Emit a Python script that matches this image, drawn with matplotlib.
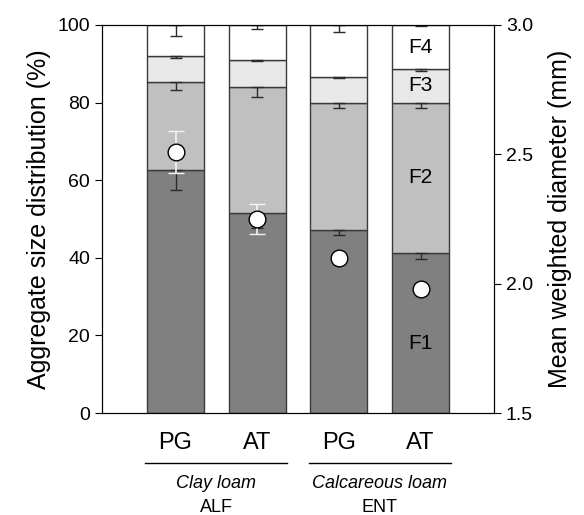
import matplotlib.pyplot as plt
import numpy as np
import matplotlib.transforms as mtransforms

plt.rcParams['font.family'] = ['Liberation Sans', 'DejaVu Sans']

# bars: PG / AT for two soils
treatments = ['PG', 'AT', 'PG', 'AT']
soils = ['Clay loam', 'Calcareous loam']
orders = ['ALF', 'ENT']

# aggregate fractions (%) per bar
f1 = [62.6, 51.6, 47.2, 41.3]
f2 = [22.6, 32.3, 32.6, 38.6]
f3 = [6.7, 7.1, 6.9, 8.7]
f4 = [8.1, 9.0, 13.3, 11.4]
# errors (drawn downward from the top of each segment)
f1_err = [5.0, 3.9, 1.3, 1.5]
f2_err = [2.0, 2.5, 1.3, 1.4]
f3_err = [0.4, 0.3, 0.3, 0.4]
f4_err = [2.8, 1.1, 1.9, 0.3]

# mean weighted diameter (mm)
mwd = [2.51, 2.25, 2.10, 1.98]
mwd_err = [0.082, 0.057, 0.0, 0.0]

seg_labels = ['F1', 'F2', 'F3', 'F4']
seg_colors = ['#808080', '#c0c0c0', '#e8e8e8', '#ffffff']

fig = plt.figure(figsize=(5.84, 5.15), dpi=100)
ax = fig.add_axes([0.1747, 0.198, 0.6712, 0.7535])

x = np.arange(len(treatments))
bottom = np.zeros(len(x))
for vals, errs, col in zip([f1, f2, f3, f4], [f1_err, f2_err, f3_err, f4_err], seg_colors):
    vals = np.array(vals)
    ax.bar(x, vals, 0.7, bottom=bottom, color=col, edgecolor='#3a3a3a', linewidth=1.0, zorder=2)
    top = bottom + vals
    ax.errorbar(x, top, yerr=[errs, np.zeros(len(x))], fmt='none', ecolor='#2a2a2a',
                elinewidth=1.0, capsize=4.5, capthick=1.0, zorder=3)
    bottom = top

# segment labels in the last bar
lab_y = [18.0, 60.6, 84.5, 94.3]
for lab, yy in zip(seg_labels, lab_y):
    ax.text(x[-1], yy, lab, ha='center', va='center', fontsize=15, zorder=4)

ax.set_xlim(-0.9, 3.9)
ax.set_ylim(0, 100)
ax.set_yticks([0, 20, 40, 60, 80, 100])
ax.set_xticks(x)
ax.set_xticklabels(treatments, fontsize=17)
ax.tick_params(axis='x', length=0, pad=14)
ax.tick_params(axis='y', labelsize=14, direction='out', length=5)
ax.set_ylabel('Aggregate size distribution (%)', fontsize=18, labelpad=5)

ax2 = ax.twinx()
ax2.set_ylim(1.5, 3.0)
ax2.set_yticks([1.5, 2.0, 2.5, 3.0])
ax2.tick_params(axis='y', labelsize=14, direction='out', length=5)
ax2.set_ylabel('Mean weighted diameter (mm)', fontsize=18, labelpad=11)
ax2.errorbar(x, mwd, yerr=mwd_err, fmt='o', color='white', markerfacecolor='white',
             markeredgecolor='black', markeredgewidth=1.0, markersize=12,
             ecolor='#f4f4f4', elinewidth=1.2, capsize=6, capthick=1.2, zorder=5)

# group lines and labels under the axis
trans = mtransforms.blended_transform_factory(ax.transData, ax.transAxes)
for i, (soil, order) in enumerate(zip(soils, orders)):
    x0, x1 = x[2 * i], x[2 * i + 1]
    ax.plot([x0 - 0.37, x1 + 0.37], [-0.129, -0.129], color='black', lw=1.0,
            transform=trans, clip_on=False)
    ax.text((x0 + x1) / 2, -0.182, soil, style='italic', ha='center', va='center',
            fontsize=13, transform=trans)
    ax.text((x0 + x1) / 2, -0.244, order, ha='center', va='center',
            fontsize=13, transform=trans)

fig.savefig('out.png', dpi=100)
